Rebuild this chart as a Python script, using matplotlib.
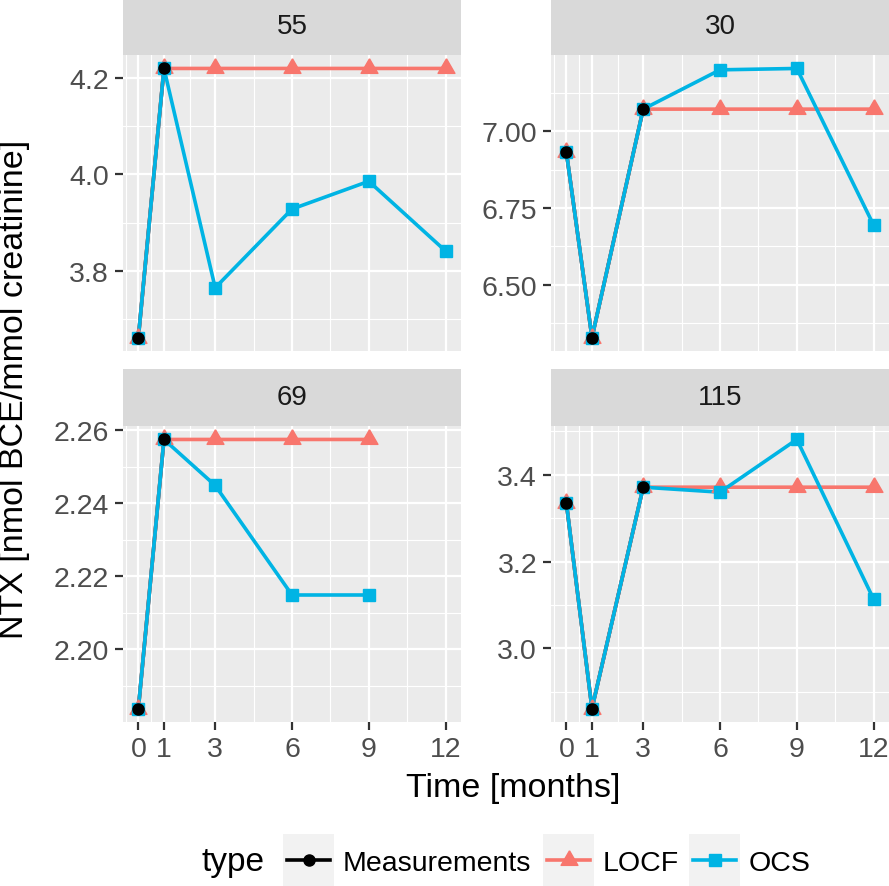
import matplotlib.pyplot as plt
from matplotlib.patches import Rectangle
import numpy as np

plt.rcParams['font.family'] = ['Liberation Sans', 'DejaVu Sans']

# data
panels = ["55", "30", "69", "115"]

meas_t = [[0, 1], [0, 1, 3], [0, 1], [0, 1, 3]]
meas_y = [
    [3.662, 4.219],
    [6.932, 6.328, 7.072],
    [2.1838, 2.2575],
    [3.335, 2.861, 3.3715],
]

locf_t = [[0, 1, 3, 6, 9, 12], [0, 1, 3, 6, 9, 12], [0, 1, 3, 6, 9], [0, 1, 3, 6, 9, 12]]
locf_y = [
    [3.662, 4.219, 4.219, 4.219, 4.219, 4.219],
    [6.932, 6.328, 7.072, 7.072, 7.072, 7.072],
    [2.1838, 2.2575, 2.2575, 2.2575, 2.2575],
    [3.335, 2.861, 3.3715, 3.3715, 3.3715, 3.3715],
]

ocs_t = [[0, 1, 3, 6, 9, 12], [0, 1, 3, 6, 9, 12], [0, 1, 3, 6, 9], [0, 1, 3, 6, 9, 12]]
ocs_y = [
    [3.662, 4.219, 3.765, 3.928, 3.9855, 3.841],
    [6.932, 6.328, 7.072, 7.200, 7.2045, 6.694],
    [2.1838, 2.2575, 2.2449, 2.2149, 2.2149],
    [3.335, 2.861, 3.3715, 3.360, 3.4816, 3.113],
]

months = [0, 1, 3, 6, 9, 12]
y_breaks = [[3.8, 4.0, 4.2], [6.50, 6.75, 7.00], [2.20, 2.22, 2.24, 2.26], [3.0, 3.2, 3.4]]
y_fmt = ["%.1f", "%.2f", "%.2f", "%.1f"]

type_names = ["Measurements", "LOCF", "OCS"]

# styles
col_meas = "black"
col_locf = "#F8766D"
col_ocs = "#00B4E4"
W, H = 889, 887
boxes = [(123, 56, 461, 352), (551, 56, 889, 352), (123, 427, 461, 723), (551, 427, 889, 723)]
strip_px = 57
lw_line = 2.6

tri = np.array([[0, 0.577], [-0.5, -0.289], [0.5, -0.289], [0, 0.577]])


def minor_breaks(b, lo, hi):
    b = list(b)
    ext = [b[0] - (b[1] - b[0])] + b + [b[-1] + (b[-1] - b[-2])]
    mids = [(ext[i] + ext[i + 1]) / 2 for i in range(len(ext) - 1)]
    return [m for m in mids if lo <= m <= hi]


fig = plt.figure(figsize=(W / 100, H / 100), dpi=100)

for i, name in enumerate(panels):
    x0, y0, x1, y1 = boxes[i]
    ax = fig.add_axes([x0 / W, 1 - y1 / H, (x1 - x0) / W, (y1 - y0) / H])
    ax.set_facecolor("#EBEBEB")
    for s in ax.spines.values():
        s.set_visible(False)
    ax.set_axisbelow(True)

    ax.plot(meas_t[i], meas_y[i], color=col_meas, lw=lw_line, zorder=2)
    ax.plot(locf_t[i], locf_y[i], color=col_locf, lw=lw_line, zorder=3)
    ax.plot(ocs_t[i], ocs_y[i], color=col_ocs, lw=lw_line, zorder=4)
    ax.plot(locf_t[i], locf_y[i], ls="none", marker=tri, ms=14, color=col_locf, zorder=5)
    ax.plot(ocs_t[i], ocs_y[i], ls="none", marker="s", ms=8.5, color=col_ocs, zorder=6)
    ax.plot(meas_t[i], meas_y[i], ls="none", marker="o", ms=8, color=col_meas, zorder=7)

    allv = meas_y[i] + locf_y[i] + ocs_y[i]
    lo, hi = min(allv), max(allv)
    pad = 0.05 * (hi - lo)
    ax.set_ylim(lo - pad, hi + pad)
    ax.set_xlim(min(months) - 0.05 * 12, max(months) + 0.05 * 12)

    ax.set_xticks(months)
    ax.set_xticks(minor_breaks(months, -0.6, 12.6), minor=True)
    ax.set_yticks(y_breaks[i])
    ax.set_yticklabels([y_fmt[i] % v for v in y_breaks[i]])
    ax.set_yticks(minor_breaks(y_breaks[i], lo - pad, hi + pad), minor=True)

    ax.grid(which="major", color="white", lw=1.6)
    ax.grid(which="minor", color="white", lw=0.8)
    ax.tick_params(which="minor", length=0)
    ax.tick_params(which="major", length=6, width=1.6, color="#333333",
                   labelsize=20.5, labelcolor="#4D4D4D", pad=4)
    if i < 2:
        ax.tick_params(bottom=False, labelbottom=False)

    h = strip_px / (y1 - y0)
    ax.add_patch(Rectangle((0, 1), 1, h, transform=ax.transAxes, clip_on=False,
                           facecolor="#D9D9D9", edgecolor="none"))
    ax.text(0.5, 1 + h / 2, name, transform=ax.transAxes, ha="center", va="center",
            fontsize=20, color="#1A1A1A")

fig.text(15 / W, 1 - 389 / H, "NTX [nmol BCE/mmol creatinine]", rotation=90,
         ha="center", va="center", fontsize=24.5)
fig.text(513 / W, 1 - 797 / H, "Time [months]", ha="center", va="baseline", fontsize=24.5)

# legend drawn in pixel space
lg = fig.add_axes([0, 0, 1, 1], zorder=-1)
lg.set_xlim(0, W)
lg.set_ylim(H, 0)
lg.axis("off")
lg.text(202, 871, "type", fontsize=24, va="baseline", ha="left")
keys = [(283, col_meas, "o", 8), (543, col_locf, tri, 14), (689, col_ocs, "s", 8.5)]
for (kx, kc, km, kms), lab in zip(keys, type_names):
    lg.add_patch(Rectangle((kx, 835), 51, 52, facecolor="#F2F2F2", edgecolor="none"))
    lg.plot([kx + 4, kx + 47], [861, 861], color=kc, lw=lw_line)
    lg.plot([kx + 25.5], [861], marker=km, ms=kms, color=kc)
    lg.text(kx + 60, 871, lab, fontsize=20.5, va="baseline", ha="left")

fig.savefig("out.png", dpi=100)
